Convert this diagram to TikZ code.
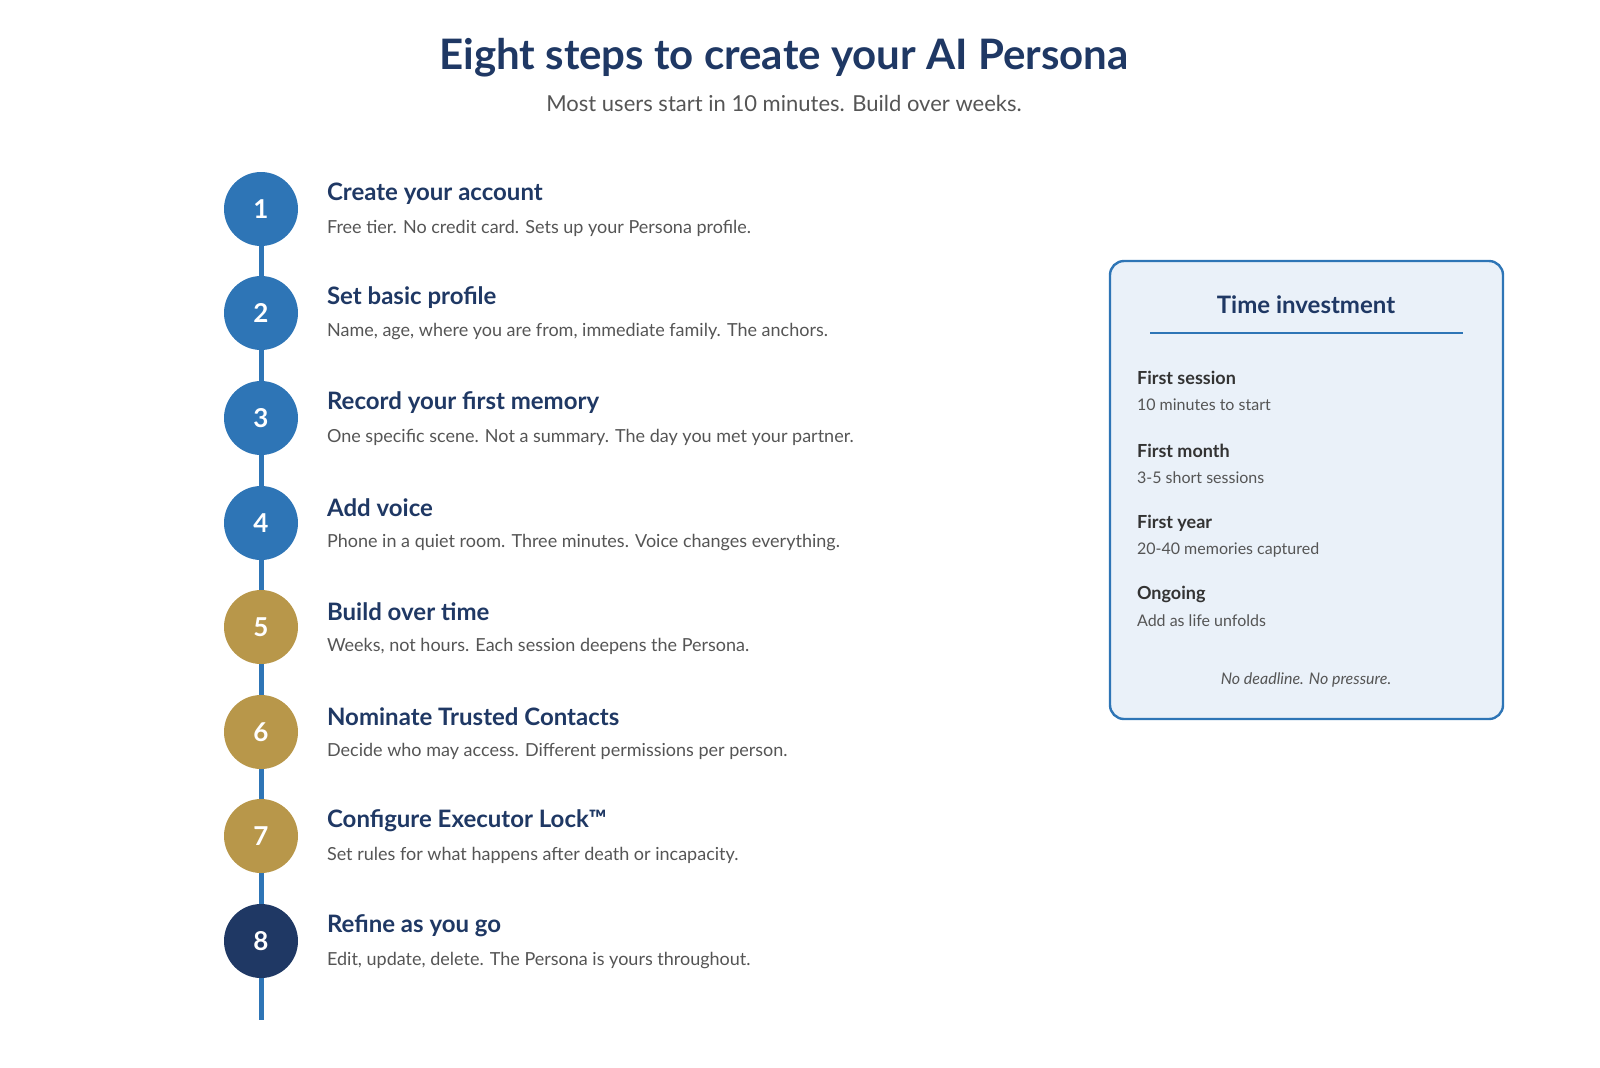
\documentclass[tikz,border=0pt]{standalone}
\usepackage{fontspec}
\setmainfont{Lato}
\definecolor{navy}{HTML}{1F3864}
\definecolor{sblue}{HTML}{2E75B6}
\definecolor{gold}{HTML}{B8974A}
\definecolor{txt}{HTML}{555555}
\definecolor{boxfill}{HTML}{EAF1F9}
\begin{document}
\begin{tikzpicture}[x=0.5pt,y=-0.5pt,
  circ/.style={circle,minimum size=37pt,inner sep=0,text=white,font=\fontsize{13}{13}\selectfont\bfseries},
  stitle/.style={anchor=west,text=navy,font=\fontsize{12}{12}\selectfont\bfseries},
  sdesc/.style={anchor=west,text=txt,font=\fontsize{9}{9}\selectfont},
  blab/.style={anchor=west,text=black!80,font=\fontsize{9}{9}\selectfont\bfseries},
  bsub/.style={anchor=west,text=txt,font=\fontsize{8}{8}\selectfont}]
\useasboundingbox (0,0) rectangle (1600,1067);
\node[text=navy,font=\fontsize{21}{21}\selectfont\bfseries] (title) at (784,58) {Eight steps to create your AI Persona};
\node[text=txt,font=\fontsize{11}{11}\selectfont] (sub) at (784,103) {Most users start in 10 minutes. Build over weeks.};
\coordinate (lineend) at (261,1020);
\coordinate (linestart) at (261,209);
\draw[sblue,line width=2.5pt] (linestart) -- (lineend);
\foreach \n/\y/\c/\t/\d in {
1/209/sblue/Create your account/Free tier. No credit card. Sets up your Persona profile.,
2/313/sblue/Set basic profile/{Name, age, where you are from, immediate family. The anchors.},
3/418/sblue/Record your first memory/One specific scene. Not a summary. The day you met your partner.,
4/523/sblue/Add voice/Phone in a quiet room. Three minutes. Voice changes everything.,
5/627/gold/Build over time/{Weeks, not hours. Each session deepens the Persona.},
6/732/gold/Nominate Trusted Contacts/Decide who may access. Different permissions per person.,
7/836/gold/Configure Executor Lock™/Set rules for what happens after death or incapacity.,
8/941/navy/Refine as you go/{Edit, update, delete. The Persona is yours throughout.}}{
  \node[circ,fill=\c] (c\n) at (261,\y) {\n};
  \node[stitle] (t\n) at (320,\y-15) {\t};
  \node[sdesc] (d\n) at (320,\y+19) {\d};
}
\draw[sblue,line width=1.2pt,fill=boxfill,rounded corners=7pt] (1110,261) rectangle (1503,719);
\node[text=navy,font=\fontsize{12}{12}\selectfont\bfseries] (bt) at (1306,305) {Time investment};
\draw[sblue,line width=0.6pt] (1150,333) -- (1463,333);
\foreach \y/\a/\b in {378/First session/10 minutes to start,451/First month/3-5 short sessions,523/First year/20-40 memories captured,594/Ongoing/Add as life unfolds}{
  \node[blab] at (1130,\y) {\a};
  \node[bsub] at (1130,\y+27) {\b};
}
\node[text=txt,font=\fontsize{8}{8}\selectfont\itshape] (nd) at (1306,680) {No deadline. No pressure.};
\end{tikzpicture}
\end{document}
